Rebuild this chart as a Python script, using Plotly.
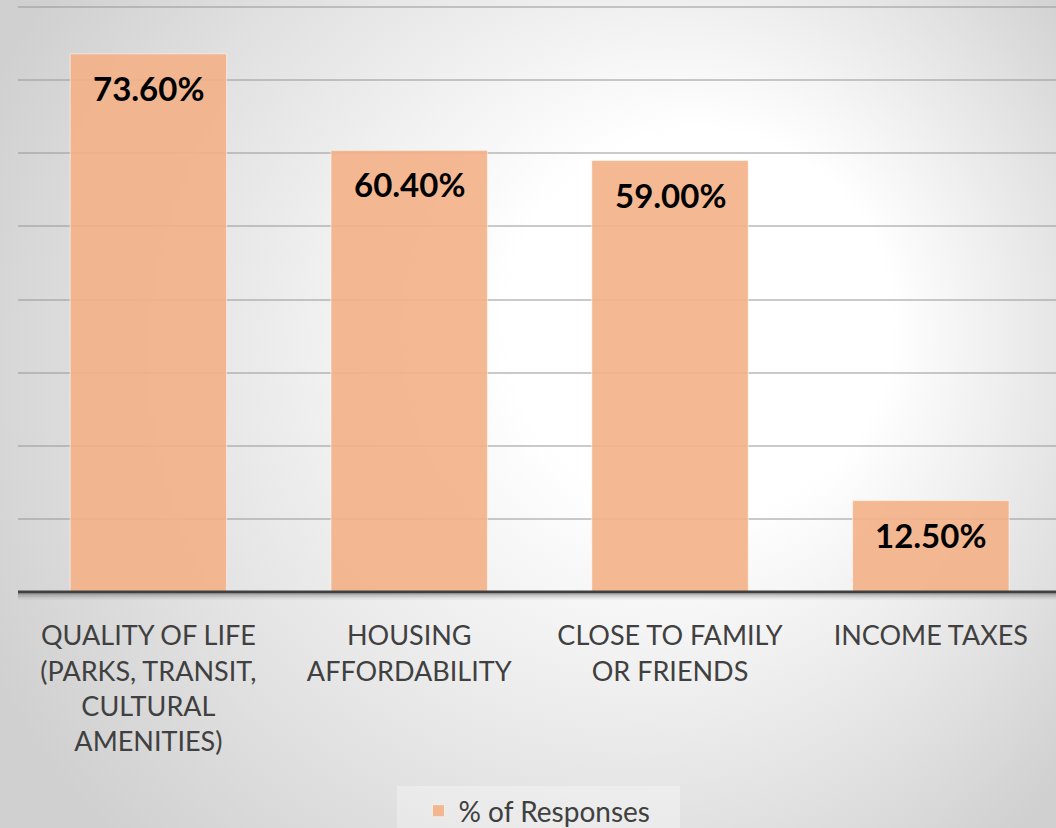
import base64
import plotly.graph_objects as go

categories = [
    "QUALITY OF LIFE<br>(PARKS, TRANSIT,<br>CULTURAL<br>AMENITIES)",
    "HOUSING<br>AFFORDABILITY",
    "CLOSE TO FAMILY<br>OR FRIENDS",
    "INCOME TAXES",
]
values = [73.6, 60.4, 59.0, 12.5]
value_labels = ["73.60%", "60.40%", "59.00%", "12.50%"]
series_name = "% of Responses"

W, H = 1056, 828
ML, MR, MT, MB = 18, 0, 0, 236
PW, PH = W - ML - MR, H - MT - MB
YMAX = 80 * PH / 585.0

svg = f"""<svg xmlns='http://www.w3.org/2000/svg' width='{W}' height='{H}' viewBox='0 0 {W} {H}'>
<defs><radialGradient id='g' gradientUnits='userSpaceOnUse' cx='560' cy='380' r='640' fx='760' fy='300'>
<stop offset='0' stop-color='#ffffff'/>
<stop offset='0.30' stop-color='#ffffff'/>
<stop offset='0.72' stop-color='#e3e3e3'/>
<stop offset='1' stop-color='#d0d0d0'/>
</radialGradient></defs>
<rect x='0' y='0' width='{W}' height='{H}' fill='url(#g)'/>
<rect x='397' y='786' width='283' height='42' fill='#ffffff' fill-opacity='0.3'/>
</svg>"""
bg_uri = "data:image/svg+xml;base64," + base64.b64encode(svg.encode()).decode()

fig = go.Figure()
fig.add_trace(go.Bar(
    x=categories, y=values, name=series_name, width=0.6,
    marker=dict(color="rgba(243,177,135,0.9)",
                line=dict(color="rgba(255,255,255,0.55)", width=1)),
    showlegend=True, hoverinfo="skip",
))

for c, v, t in zip(categories, values, value_labels):
    fig.add_annotation(x=c, y=v, text=f"<b>{t}</b>", showarrow=False,
                       yanchor="top", yshift=-12,
                       font=dict(family="Lato", size=33, color="#000000"))

# axis shadow
for off, a in [(2.5, 0.35), (4, 0.22), (5.5, 0.12), (7, 0.06)]:
    fig.add_shape(type="line", xref="paper", yref="paper",
                  x0=0, x1=1, y0=-off / PH, y1=-off / PH,
                  line=dict(color=f"rgba(60,60,60,{a})", width=1.5), layer="above")
fig.add_shape(type="line", xref="paper", yref="paper", x0=0, x1=1, y0=0, y1=0,
              line=dict(color="#404040", width=3), layer="above")

fig.add_layout_image(dict(
    source=bg_uri, xref="paper", yref="paper",
    x=-ML / PW, y=1 + MT / PH, sizex=W / PW, sizey=H / PH,
    xanchor="left", yanchor="top", sizing="stretch", layer="below",
))

fig.update_layout(
    width=W, height=H,
    margin=dict(l=ML, r=MR, t=MT, b=MB, pad=0, autoexpand=False),
    paper_bgcolor="#e2e2e2", plot_bgcolor="rgba(0,0,0,0)",
    font=dict(family="Lato", color="#404040"),
    bargap=0.4,
    xaxis=dict(range=[-0.5, 3.48], showgrid=False, showline=False, zeroline=False,
               automargin=False,
               ticks="outside", ticklen=0, ticklabelstandoff=20,
               tickfont=dict(family="Lato", size=27, color="#404040"), fixedrange=True),
    yaxis=dict(range=[0, YMAX], tickvals=[10, 20, 30, 40, 50, 60, 70, 80], showgrid=True,
               automargin=False,
               gridcolor="rgba(150,150,150,0.5)", gridwidth=1.5,
               zeroline=False, showticklabels=False, showline=False),
    legend=dict(orientation="h", x=0.5, xanchor="center", y=(592 - 811) / PH, yanchor="middle",
                bgcolor="rgba(0,0,0,0)",
                font=dict(family="Lato", size=28, color="#404040")),
)

fig.write_html("out.html", config={"displayModeBar": False},
               post_script="document.body.style.margin='0';document.documentElement.style.overflow='hidden';window.scrollTo(0,0);")
